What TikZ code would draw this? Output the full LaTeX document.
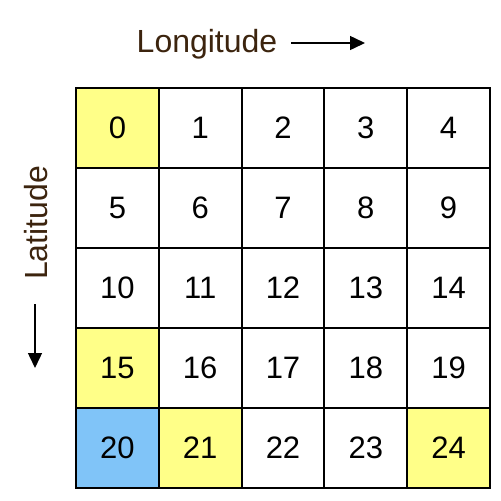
\documentclass[tikz,border=0pt]{standalone}
\usepackage{fontspec}
\setmainfont{Liberation Sans}
\usetikzlibrary{arrows.meta}
\definecolor{cellyellow}{RGB}{255,255,136}
\definecolor{cellblue}{RGB}{128,196,248}
\definecolor{labelbrown}{RGB}{60,36,14}
\tikzset{
  cellbox/.style={draw=black, line width=2pt, minimum width=82.8pt, minimum height=80pt, inner sep=0pt, anchor=north west, font=\fontsize{31}{31}\selectfont},
  axislabel/.style={text=labelbrown, font=\fontsize{32}{32}\selectfont, inner sep=0pt},
  axisarrow/.style={line width=1.5pt, -{Triangle[length=15pt,width=14pt]}}
}
\begin{document}
\begin{tikzpicture}[x=1pt,y=1pt]
\useasboundingbox (0,0) rectangle (501,-501);
\fill[white] (0,0) rectangle (501,-501);
\foreach \r in {0,...,4}{
  \foreach \c in {0,...,4}{
    \pgfmathtruncatemacro{\n}{\r*5+\c}
    \def\fillc{white}
    \ifnum\n=0 \def\fillc{cellyellow}\fi
    \ifnum\n=15 \def\fillc{cellyellow}\fi
    \ifnum\n=21 \def\fillc{cellyellow}\fi
    \ifnum\n=24 \def\fillc{cellyellow}\fi
    \ifnum\n=20 \def\fillc{cellblue}\fi
    \node[cellbox, fill=\fillc] (c\n) at ({75+82.8*\c},{-87-80*\r}) {\n};
  }
}
\node[axislabel, anchor=base] (lon) at (207,-52) {Longitude};
\coordinate (lonA) at (291,-43);
\coordinate (lonB) at (365,-43);
\draw[axisarrow] (lonA) -- (lonB);
\node[axislabel, rotate=90, anchor=base] (lat) at (47,-223) {Latitude};
\coordinate (latA) at (35,-304);
\coordinate (latB) at (35,-368);
\draw[axisarrow] (latA) -- (latB);
\end{tikzpicture}
\end{document}
